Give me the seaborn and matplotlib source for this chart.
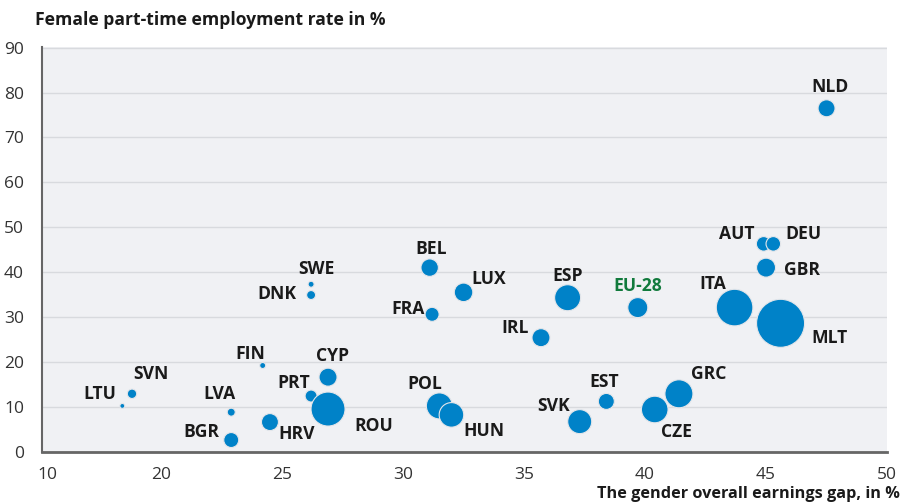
import pandas as pd
import matplotlib.pyplot as plt
import seaborn as sns

# Values
countries = ["NLD", "AUT", "DEU", "GBR", "ITA", "MLT", "EU-28", "BEL", "SWE", "DNK",
             "LUX", "FRA", "ESP", "IRL", "FIN", "CYP", "PRT", "ROU", "POL", "HUN",
             "SVN", "LTU", "LVA", "BGR", "HRV", "SVK", "EST", "CZE", "GRC"]
earnings_gap = [47.5, 44.9, 45.3, 45.0, 43.7, 45.6, 39.7, 31.1, 26.2, 26.2,
                32.5, 31.2, 36.8, 35.7, 24.2, 26.9, 26.2, 26.9, 31.5, 32.0,
                18.8, 18.4, 22.9, 22.9, 24.5, 37.3, 38.4, 40.4, 41.4]
part_time_rate = [76.5, 46.3, 46.3, 41.0, 32.1, 28.6, 32.1, 41.0, 37.3, 34.9,
                  35.5, 30.6, 34.3, 25.4, 19.2, 16.6, 12.4, 9.5, 10.2, 8.2,
                  12.9, 10.2, 8.8, 2.6, 6.6, 6.7, 11.2, 9.4, 12.9]
bubble = [72, 53, 53, 90, 335, 576, 100, 76, 9, 20,
          86, 49, 169, 81, 9, 81, 36, 289, 169, 151,
          22, 6, 16, 56, 72, 144, 64, 177, 196]

# label offsets (pixels) from bubble centre
label_dx = [3, -27, 30, 36, -22, 49, 0, 1, 5, -34, 25, -24, 0, -26, -12, 4, -17, 46,
            -15, 32, 19, -23, -12, -30, 27, -26, -2, 22, 30]
label_dy = [22, 11, 11, -1, 25, -14, 23, 20, 16, 2, 14, 6, 23, 11, 13, 22, 14, -16,
            23, -15, 21, 13, 19, 9, -11, 17, 20, -22, 21]

x_ticks = [15.3, 20, 25, 30, 35, 40, 45, 50]
x_tick_labels = ["10", "20", "25", "30", "35", "40", "45", "50"]
y_ticks = [0, 10, 20, 30, 40, 50, 60, 70, 80, 90]

df = pd.DataFrame({"country": countries, "gap": earnings_gap,
                   "rate": part_time_rate, "bubble": bubble})

sns.set_style("white")
plt.rcParams["font.family"] = ["Open Sans", "DejaVu Sans"]

fig = plt.figure(figsize=(9.07, 5.03), dpi=100)
ax = fig.add_axes([0.0463, 0.102, 0.9317, 0.805])
ax.set_facecolor("#F0F1F4")

vmax = max(bubble)
sns.scatterplot(data=df, x="gap", y="rate", size="bubble",
                sizes=(0, 2.0736 * vmax), size_norm=(0, vmax),
                color="#0082C8", edgecolor="#E4E6EA", linewidth=0.8,
                alpha=1, legend=False, ax=ax, zorder=3)

for i, name in enumerate(countries):
    color = "#117A3C" if name == "EU-28" else "#1A1A1A"
    ax.annotate(name, (earnings_gap[i], part_time_rate[i]),
                xytext=(label_dx[i], label_dy[i] - 6), textcoords="offset pixels",
                ha="center", va="baseline", fontsize=12.6, fontweight="bold",
                color=color, zorder=4)

ax.set_xlim(15.08, 50)
ax.set_ylim(0, 90.2)
ax.set_xticks(x_ticks)
ax.set_xticklabels(x_tick_labels)
ax.set_yticks(y_ticks)
ax.xaxis.get_major_ticks()[0].tick1line.set_visible(False)
ax.yaxis.get_major_ticks()[-1].tick1line.set_visible(False)

ax.grid(axis="y", color="#D8DADE", linewidth=1)
ax.set_axisbelow(True)
ax.tick_params(axis="x", length=5, width=1, color="#666666", labelsize=12.5,
               labelcolor="#333333", pad=6)
ax.tick_params(axis="y", length=4, width=1, color="#666666", labelsize=12.5,
               labelcolor="#333333", pad=9)

for side in ["top", "right"]:
    ax.spines[side].set_visible(False)
ax.spines["left"].set_color("#666666")
ax.spines["left"].set_linewidth(1.5)
ax.spines["bottom"].set_color("#666666")
ax.spines["bottom"].set_linewidth(2)

ax.set_xlabel("")
ax.set_ylabel("")
fig.text(35 / 907, 1 - 20 / 503, "Female part-time employment rate in %",
         ha="left", va="center", fontsize=12.6, fontweight="bold", color="#1A1A1A")
fig.text(900 / 907, 1 - 494 / 503, "The gender overall earnings gap, in %",
         ha="right", va="center", fontsize=11.7, fontweight="bold", color="#1A1A1A")

fig.savefig("out.png", dpi=100)
